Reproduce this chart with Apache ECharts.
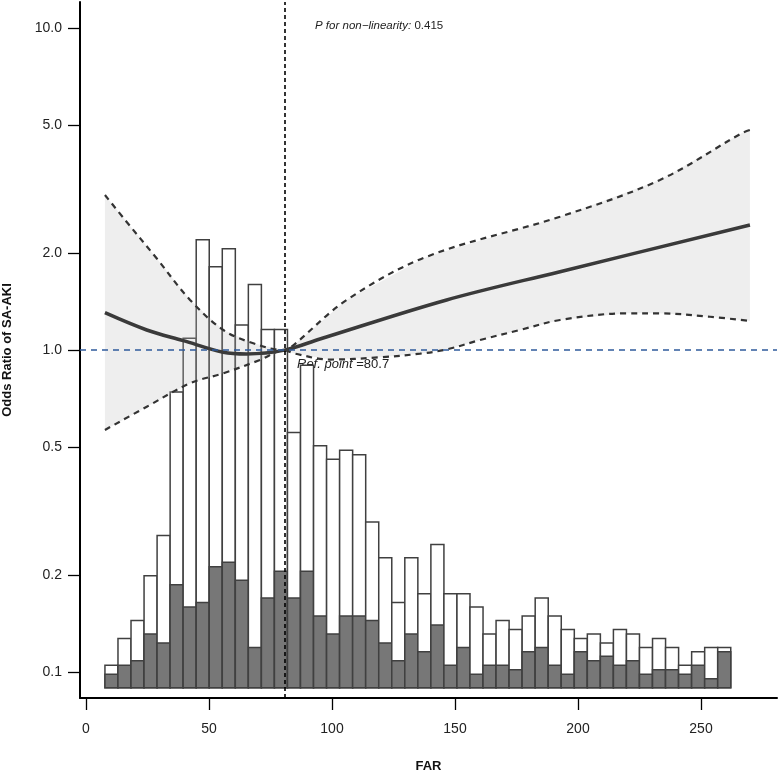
<!DOCTYPE html>
<html lang="en">
<head>
<meta charset="UTF-8">
<title>RCS FAR</title>
<script src="https://cdn.jsdelivr.net/npm/echarts@6.0.0/dist/echarts.min.js"></script>
<style>
    html, body { margin: 0; padding: 0; background: #fff; }
    #chart { width: 778px; height: 775px; }
</style>
</head>
<body>
<div id="chart"></div>
<script>
    // histogram of FAR (counts per bin)
    var binStart = 7.7;
    var binWidth = 5.3;
    var totalCounts = [5, 11, 15, 25, 34, 66, 78, 100, 94, 98, 81, 90, 80, 80, 57, 72, 54, 51, 53, 52, 37, 29, 19, 29, 21,
        32, 21, 21, 18, 12, 15, 13, 16, 20, 16, 13, 11, 12, 10, 13, 12, 9, 11, 9, 5, 8, 9, 9];
    var eventCounts = [3, 5, 6, 12, 10, 23, 18, 19, 27, 28, 24, 9, 20, 26, 20, 26, 16, 12, 16, 16, 15, 10, 6, 12, 8,
        14, 5, 9, 3, 5, 5, 4, 8, 9, 5, 3, 8, 6, 7, 5, 6, 3, 4, 4, 3, 5, 2, 8];

    // odds ratio curve and 95% CI  [FAR, OR]
    var orCurve = [[7.7, 1.307], [24.7, 1.155], [39.6, 1.070], [55.8, 0.985], [65.3, 0.973], [80.7, 1.0],
        [95.1, 1.083], [146.6, 1.432], [192.7, 1.753], [269.9, 2.448]];
    var upperCI = [[7.7, 3.034], [15.9, 2.537], [28.7, 1.929], [42.3, 1.432], [55.8, 1.155], [68.0, 1.050],
        [80.7, 1.0], [83.6, 1.025], [106.0, 1.432], [138.5, 1.951], [192.7, 2.598], [233.3, 3.379],
        [266.5, 4.719], [269.9, 4.831]];
    var lowerCI = [[7.7, 0.565], [24.7, 0.667], [42.3, 0.789], [55.8, 0.847], [70.7, 0.932], [80.7, 1.0],
        [84.3, 0.978], [99.2, 0.935], [119.5, 0.950], [135.8, 0.975], [146.6, 1.005], [160.2, 1.075],
        [176.4, 1.155], [192.7, 1.241], [219.8, 1.301], [233.3, 1.301], [253.7, 1.27], [269.9, 1.232]];

    var refPoint = 80.7;
    var pNonLinear = '0.415';
    var yTickValues = [0.1, 0.2, 0.5, 1, 2, 5, 10];
    var yTickLabels = ['0.1', '0.2', '0.5', '1.0', '2.0', '5.0', '10.0'];
    var xTickValues = [0, 50, 100, 150, 200, 250];

    var FONT = '"Liberation Sans", Arial, sans-serif';

    function toLog(points) {
        return points.map(function (p) { return [p[0], Math.log10(p[1])]; });
    }

    function getHistData() {
        var rows = [];
        for (var i = 0; i < totalCounts.length; i++) {
            var x0 = binStart + i * binWidth;
            rows.push([x0, x0 + binWidth, totalCounts[i], eventCounts[i]]);
        }
        return rows;
    }

    function renderBin(params, api) {
        var x0 = api.value(0), x1 = api.value(1);
        var base = api.coord([x0, 0]);
        var top = api.coord([x1, api.value(2)]);
        var ev = api.coord([x1, api.value(3)]);
        var stroke = '#404040';
        return {
            type: 'group',
            children: [
                { type: 'rect', shape: { x: base[0], y: top[1], width: top[0] - base[0], height: base[1] - top[1] },
                  style: { fill: '#ffffff', stroke: stroke, lineWidth: 1.5 } },
                { type: 'rect', shape: { x: base[0], y: ev[1], width: ev[0] - base[0], height: base[1] - ev[1] },
                  style: { fill: '#777777', stroke: stroke, lineWidth: 1.5 } }
            ]
        };
    }

    function renderBand(params, api) {
        var pts = [];
        upperCI.forEach(function (p) { pts.push(api.coord([p[0], Math.log10(p[1])])); });
        lowerCI.slice().reverse().forEach(function (p) { pts.push(api.coord([p[0], Math.log10(p[1])])); });
        return { type: 'polygon', shape: { points: pts }, style: { fill: 'rgba(190,190,190,0.26)' } };
    }

    var option = {
        animation: false,
        backgroundColor: '#fff',
        grid: { left: 80, right: 1, top: 2, bottom: 77, containLabel: false, outerBoundsMode: 'none' },
        xAxis: {
            type: 'value', min: -2.44, max: 280.9,
            name: 'FAR', nameLocation: 'middle', nameGap: 62,
            nameTextStyle: { fontFamily: FONT, fontSize: 13, fontWeight: 'bold', color: '#111' },
            axisLine: { onZero: false, lineStyle: { color: '#000', width: 2 } },
            axisTick: { customValues: xTickValues, length: 12, lineStyle: { color: '#000', width: 1.3 } },
            axisLabel: { customValues: xTickValues, margin: 24, fontFamily: FONT, fontSize: 14, color: '#222' },
            splitLine: { show: false }
        },
        yAxis: [{
            type: 'value', min: -1.0808, max: 1.0817,
            name: 'Odds Ratio of SA-AKI', nameLocation: 'middle', nameGap: 66, nameRotate: 90,
            nameTextStyle: { fontFamily: FONT, fontSize: 13, fontWeight: 'bold', color: '#111' },
            axisLine: { onZero: false, lineStyle: { color: '#000', width: 2 } },
            axisTick: { customValues: yTickValues.map(Math.log10), length: 12, lineStyle: { color: '#000', width: 1.3 } },
            axisLabel: {
                customValues: yTickValues.map(Math.log10), margin: 18,
                fontFamily: FONT, fontSize: 14, color: '#222',
                formatter: function (v) {
                    for (var i = 0; i < yTickValues.length; i++) {
                        if (Math.abs(Math.log10(yTickValues[i]) - v) < 1e-6) return yTickLabels[i];
                    }
                    return '';
                }
            },
            splitLine: { show: false }
        }, {
            type: 'value', min: -2.3, max: 153.1, show: false, splitLine: { show: false }
        }],
        graphic: [{
            type: 'text', left: 315, top: 20,
            style: {
                text: '{i|P for non\u2212linearity:} {n|' + pNonLinear + '}',
                rich: {
                    i: { fontStyle: 'italic', fontSize: 11.5, fontFamily: FONT, fill: '#222' },
                    n: { fontSize: 11.5, fontFamily: FONT, fill: '#222' }
                },
                fontSize: 11.5, fontFamily: FONT, fill: '#222'
            }
        }, {
            type: 'text', left: 297, top: 358,
            style: {
                text: '{i|Ref. point} {n|=' + refPoint + '}',
                rich: {
                    i: { fontStyle: 'italic', fontSize: 13, fontFamily: FONT, fill: '#222' },
                    n: { fontSize: 13, fontFamily: FONT, fill: '#222' }
                },
                fontSize: 13, fontFamily: FONT, fill: '#222'
            }
        }],
        series: [{
            type: 'custom', name: 'hist', z: 1, yAxisIndex: 1,
            renderItem: renderBin,
            encode: { x: [0, 1], y: [2, 3] },
            data: getHistData(),
            silent: true
        }, {
            type: 'custom', name: 'band', z: 2,
            renderItem: renderBand,
            encode: { x: 0, y: 1 },
            data: [[refPoint, 0]],
            silent: true
        }, {
            type: 'line', name: 'upper', z: 3, data: toLog(upperCI), smooth: 0.35, symbol: 'none',
            lineStyle: { color: '#333', width: 2.2, type: [6, 5] }, silent: true
        }, {
            type: 'line', name: 'lower', z: 3, data: toLog(lowerCI), smooth: 0.35, symbol: 'none',
            lineStyle: { color: '#333', width: 2.2, type: [6, 5] }, silent: true
        }, {
            type: 'line', name: 'OR', z: 4, data: toLog(orCurve), smooth: 0.35, symbol: 'none',
            lineStyle: { color: '#3a3a3a', width: 3.5 }, silent: true,
            markLine: {
                silent: true, symbol: ['none', 'none'], label: { show: false },
                data: [
                    { xAxis: refPoint, lineStyle: { color: '#000', width: 1.6, type: [4, 3] } },
                    { yAxis: 0, lineStyle: { color: '#2f5b9c', width: 1.5, type: [6, 5] } }
                ]
            }
        }]
    };

    var myChart = echarts.init(document.getElementById('chart'));
    myChart.setOption(option);
</script>
</body>
</html>
